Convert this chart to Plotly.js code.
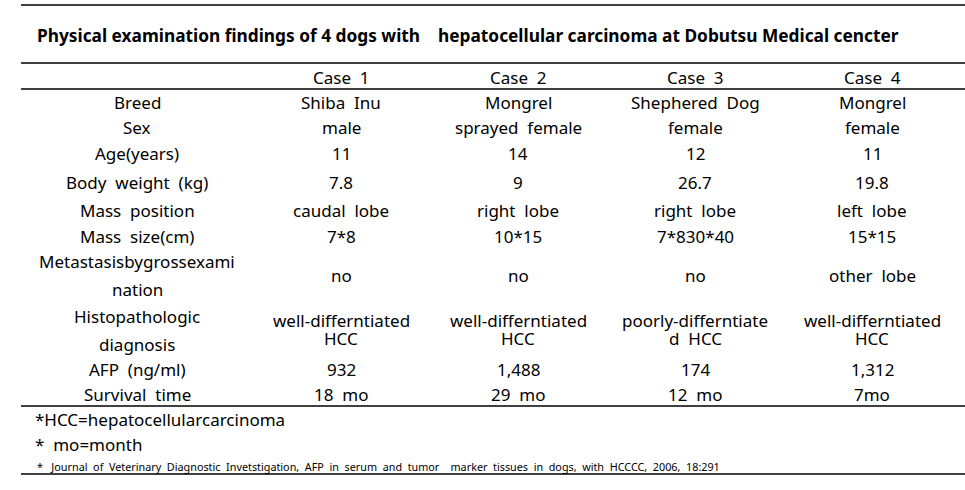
<!DOCTYPE html>
<html>
<head>
<meta charset="utf-8">
<script src="https://cdn.plot.ly/plotly-3.0.1.min.js"></script>
<style>html,body{margin:0;padding:0;background:#fff;}#chart{width:965px;height:490px;}</style>
</head>
<body>
<div id="chart"></div>
<script>
// ---- data ----
const tableTitle = "Physical examination findings of 4 dogs with  hepatocellular carcinoma at Dobutsu Medical cencter";
const headers = ["Case 1", "Case 2", "Case 3", "Case 4"];
const rowLabels = [
  ["Breed"], ["Sex"], ["Age(years)"], ["Body weight (kg)"], ["Mass position"], ["Mass size(cm)"],
  ["Metastasisbygrossexami", "nation"], ["Histopathologic", "diagnosis"], ["AFP (ng/ml)"], ["Survival time"]
];
const case1 = [["Shiba Inu"], ["male"], ["11"], ["7.8"], ["caudal lobe"], ["7*8"], ["no"], ["well-differntiated", "HCC"], ["932"], ["18 mo"]];
const case2 = [["Mongrel"], ["sprayed female"], ["14"], ["9"], ["right lobe"], ["10*15"], ["no"], ["well-differntiated", "HCC"], ["1,488"], ["29 mo"]];
const case3 = [["Shephered Dog"], ["female"], ["12"], ["26.7"], ["right lobe"], ["7*830*40"], ["no"], ["poorly-differntiate", "d HCC"], ["174"], ["12 mo"]];
const case4 = [["Mongrel"], ["female"], ["11"], ["19.8"], ["left lobe"], ["15*15"], ["other lobe"], ["well-differntiated", "HCC"], ["1,312"], ["7mo"]];
const footnotes = ["*HCC=hepatocellularcarcinoma", "*  mo=month"];
const sourceNote = "*  Journal of Veterinary Diagnostic Invetstigation, AFP in serum and tumor  marker tissues in dogs, with HCCCC, 2006, 18:291";

// ---- layout geometry ----
const W = 965, H = 490;
const FONT = "Noto Sans, DejaVu Sans, sans-serif";
const colX = [137, 341, 518, 695, 872];
const rowY = [102, 127, 153, 182, 210, 236, 275, 330, 369, 394];
const labelLineY = {6: [261, 289], 7: [316, 344]};
const valueLineY = {7: [320, 338]};
const lineYs = [5, 63, 89, 406, 474];

// wide word spacing, as in the source document
const wide = s => s.replace(/ /g, '\u00a0\u00a0');
const keep = s => s.replace(/ /g, '\u00a0');

const ann = [];
function addText(text, x, y, opts) {
  ann.push(Object.assign({
    text: text, x: x, y: y, xref: 'x', yref: 'y', showarrow: false,
    xanchor: 'center', yanchor: 'middle',
    font: {family: FONT, size: 17, color: '#000'}
  }, opts || {}));
}

addText(tableTitle.replace(/  /g, '\u00a0\u00a0\u00a0 ').replace(/ /g, '\u00a0'), 35, 35,
  {xanchor: 'left', font: {family: FONT, size: 17.3, color: '#000', weight: 'bold'}});
headers.forEach((h, i) => addText(wide(h), colX[i + 1], 77));

const cases = [case1, case2, case3, case4];
rowLabels.forEach((lab, r) => {
  if (lab.length === 1) addText(wide(lab[0]), colX[0], rowY[r]);
  else lab.forEach((l, k) => addText(wide(l), colX[0], labelLineY[r][k]));
  cases.forEach((c, ci) => {
    const v = c[r];
    if (v.length === 1) addText(wide(v[0]), colX[ci + 1], rowY[r]);
    else v.forEach((l, k) => addText(wide(l), colX[ci + 1], valueLineY[r][k]));
  });
});
addText(footnotes[0], 33, 419, {xanchor: 'left'});
addText(keep(footnotes[1]), 33, 444, {xanchor: 'left'});
addText(wide(sourceNote).replace('\u00a0\u00a0\u00a0\u00a0J', '\u00a0\u00a0\u00a0J'), 35, 466,
  {xanchor: 'left', font: {family: FONT, size: 10.8, color: '#000'}});

const shapes = lineYs.map(y => ({type: 'line', xref: 'x', yref: 'y', x0: 21, x1: 965, y0: y, y1: y, line: {color: '#000', width: 1.4}}));

Plotly.newPlot('chart', [], {
  width: W, height: H,
  margin: {l: 0, r: 0, t: 0, b: 0},
  paper_bgcolor: '#fff', plot_bgcolor: '#fff',
  xaxis: {range: [0, W], visible: false, fixedrange: true},
  yaxis: {range: [H, 0], visible: false, fixedrange: true},
  annotations: ann,
  shapes: shapes,
  showlegend: false
}, {displayModeBar: false, staticPlot: true});
</script>
</body>
</html>
